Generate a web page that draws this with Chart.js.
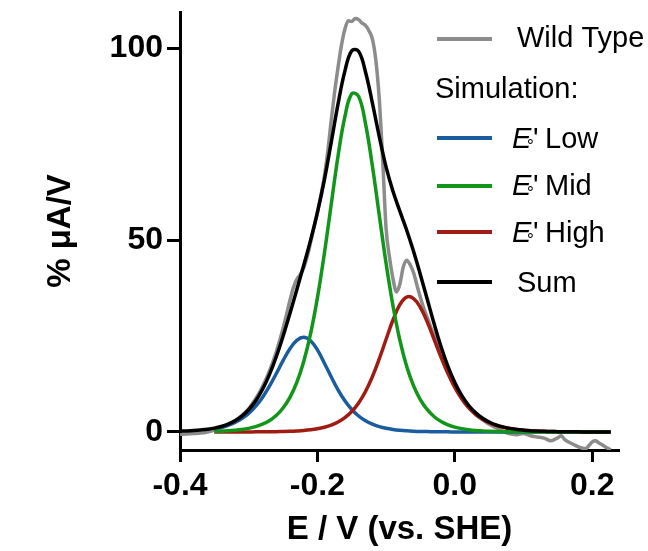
<!DOCTYPE html>
<html><head><meta charset="utf-8">
<script src="https://cdn.jsdelivr.net/npm/chart.js@4.4.1/dist/chart.umd.min.js"></script>
<style>html,body{margin:0;padding:0;background:#fff;}#wrap{width:648px;height:551px;}</style>
</head><body><div id="wrap"><canvas id="c" width="648" height="551"></canvas></div>
<script>
// ---- data ----
const xSim = [-0.40,-0.39,-0.38,-0.37,-0.36,-0.35,-0.34,-0.33,-0.32,-0.31,-0.30,-0.29,-0.28,-0.27,-0.26,-0.25,-0.24,-0.23,-0.22,-0.21,-0.20,-0.19,-0.18,-0.17,-0.16,-0.15,-0.14,-0.13,-0.12,-0.11,-0.10,-0.09,-0.08,-0.07,-0.06,-0.05,-0.04,-0.03,-0.02,-0.01,0.00,0.01,0.02,0.03,0.04,0.05,0.06,0.07,0.08,0.09,0.10,0.11,0.12,0.13,0.14,0.15,0.16,0.17,0.18,0.19,0.20,0.21,0.22,0.227];
const lowVals = [null,null,null,null,null,0.86,1.23,1.75,2.47,3.48,4.84,6.66,9.0,11.88,15.17,18.6,21.7,23.9,24.7,23.8,21.4,18.0,14.4,11.0,8.13,5.87,4.16,2.91,2.02,1.40,0.96,0.66,0.45,0.31,0.21,0.14,0.10,0.07,0.05,0.03,0.02,0.01,0.01,0,0,0,0,0,0,0,0,0,0,0,0,0,0,0,0,0,0,0,0,0];
const midVals = [null,null,null,null,null,0.14,0.20,0.30,0.44,0.64,0.94,1.38,2.02,2.94,4.30,6.24,9.01,12.92,18.33,25.58,34.97,46.36,59.2,71.9,82.2,88.2,87.5,80.4,69.4,56.6,43.9,32.9,23.96,17.1,12.03,8.38,5.80,3.98,2.73,1.87,1.28,0.87,0.59,0.40,0.28,0.19,0.13,0.09,0.06,0.04,0.03,0.02,0.01,0,0,0,0,0,0,0,0,0,0,0];
const highVals = [null,null,null,null,null,0.0,0.0,0.01,0.01,0.01,0.02,0.03,0.04,0.06,0.08,0.12,0.18,0.27,0.39,0.57,0.84,1.23,1.78,2.59,3.74,5.35,7.58,10.56,14.4,19.04,24.18,29.2,33.18,35.18,34.79,32.43,28.64,24.09,19.46,15.22,11.6,8.66,6.38,4.65,3.36,2.41,1.72,1.23,0.88,0.62,0.44,0.31,0.22,0.16,0.11,0.08,0.06,0.04,0.03,0.02,0.01,0.01,0.01,0.01];
const sumVals = [0.2,0.27,0.38,0.53,0.72,1.0,1.43,2.06,2.92,4.13,5.80,8.07,11.06,14.88,19.55,24.96,30.89,37.09,43.42,49.95,57.21,65.59,75.38,85.49,94.07,99.42,99.24,93.87,85.82,77.04,69.04,62.76,57.59,52.59,47.03,40.95,34.54,28.14,22.24,17.12,12.9,9.54,6.97,5.05,3.64,2.6,1.85,1.32,0.94,0.66,0.47,0.33,0.23,0.16,0.11,0.08,0.06,0.04,0.03,0.02,0.01,0.01,0.01,0.01];

const xWT = [-0.40,-0.39,-0.38,-0.37,-0.36,-0.35,-0.34,-0.33,-0.32,-0.31,-0.30,-0.29,-0.28,-0.27,-0.26,
 -0.255,-0.25,-0.245,-0.24,-0.235,-0.23,-0.225,-0.22,-0.215,-0.21,-0.205,-0.20,-0.195,-0.19,-0.185,-0.18,-0.175,-0.17,-0.165,-0.16,-0.155,-0.15,-0.145,-0.14,-0.135,-0.13,-0.125,-0.12,-0.115,-0.11,-0.105,-0.10,-0.095,-0.09,-0.085,-0.08,-0.075,-0.07,-0.065,-0.06,-0.055,-0.05,-0.045,-0.04,-0.035,-0.03,-0.025,-0.02,-0.015,-0.01,-0.005,0.0,0.005,0.01,0.015,0.02,
 0.03,0.04,0.05,0.06,0.07,0.08,0.09,0.10,0.11,0.12,0.13,0.14,0.15,0.155,0.16,0.17,0.18,0.19,0.195,0.20,0.205,0.21,0.215,0.22,0.227];
const wtVals = [-0.6,-0.5,-0.4,-0.3,0.0,0.5,1.0,1.8,2.9,4.3,6.1,8.6,11.8,15.8,20.8,
 23.8,27.0,30.6,34.3,37.6,39.8,41.0,42.8,45.6,49.4,53.4,57.3,61.6,66.5,73.0,81.0,88.5,95.0,100.8,105.0,107.2,107.0,107.8,107.5,106.6,106.0,104.6,102.5,97,87,71,53,45.5,40,36.5,38.5,43,44.8,43.6,41.5,38.2,35,32.2,29.8,27.3,25,22.6,20.3,17.8,15.6,13.6,11.8,10.2,8.8,7.5,6.4,
 4.6,3.2,2.0,1.1,0.2,-0.5,-0.7,-0.4,-1.0,-1.3,-1.6,-2.3,-1.5,-1.0,-2.0,-3.0,-3.9,-4.4,-3.6,-2.6,-2.3,-2.9,-3.4,-4.0,-4.7];

const xTicks = [-0.4,-0.2,0.0,0.2];
const yTicks = [0,50,100];
const xTitle = 'E / V (vs. SHE)';
const yTitle = '% μA/V';
const seriesNames = ['Wild Type','Low','Mid','High','Sum'];
const legendHeader = 'Simulation:';

// ---- chart ----
const FONT = '"Liberation Sans", Arial, Helvetica, sans-serif';
const COLORS = {wt:'#8c8c8c', low:'#1b5c9e', mid:'#12961a', high:'#a01c12', sum:'#000000'};
const pts = (xs, ys) => xs.map((x,i)=>({x:x, y:ys[i]}));

const legendPlugin = {
  id:'customLegend',
  afterDraw(chart){
    const ctx = chart.ctx;
    ctx.save();
    ctx.textBaseline = 'alphabetic';
    ctx.fillStyle = '#000';
    const lineX0 = 437, lineX1 = 492;
    const seg = (y, color) => {
      ctx.beginPath(); ctx.strokeStyle = color; ctx.lineWidth = 4; ctx.lineCap = 'butt';
      ctx.moveTo(lineX0, y); ctx.lineTo(lineX1, y); ctx.stroke();
    };
    const f = '29px ' + FONT;
    seg(39, COLORS.wt);
    ctx.font = f; ctx.fillText(seriesNames[0], 517, 47);
    ctx.fillText(legendHeader, 435, 98);
    const rows = [[seriesNames[1],138,148,COLORS.low],[seriesNames[2],186,195,COLORS.mid],[seriesNames[3],232,242,COLORS.high]];
    rows.forEach(([name, ly, by, col]) => {
      seg(ly, col);
      ctx.font = 'italic 29px ' + FONT; ctx.fillText('E', 512, by);
      ctx.font = '17px ' + FONT; ctx.fillText('°', 527, by + 3);
      ctx.font = f; ctx.fillText("'", 533, by);
      ctx.fillText(name, 545, by);
    });
    seg(282, COLORS.sum);
    ctx.font = f; ctx.fillText(seriesNames[4], 517, 292);
    ctx.restore();
  }
};

const lineDs = (label, xs, ys, color, extra) => Object.assign({
  label, data: pts(xs, ys), borderColor: color, backgroundColor: color,
  borderWidth: 3.5, pointRadius: 0, fill: false, tension: 0.4, spanGaps: false
}, extra || {});

new Chart(document.getElementById('c'), {
  type: 'line',
  data: { datasets: [
    lineDs(seriesNames[4], xSim, sumVals, COLORS.sum),
    lineDs(seriesNames[2], xSim, midVals, COLORS.mid),
    lineDs(seriesNames[3], xSim, highVals, COLORS.high),
    lineDs(seriesNames[1], xSim, lowVals, COLORS.low),
    lineDs(seriesNames[0], xWT, wtVals, COLORS.wt, {cubicInterpolationMode:'monotone'})
  ]},
  options: {
    responsive: false, animation: false, devicePixelRatio: 1,
    layout: { padding: { top: 12, right: 29, left: 0, bottom: 0 } },
    plugins: { legend: { display: false }, tooltip: { enabled: false } },
    scales: {
      x: {
        type: 'linear', min: -0.4, max: 0.239,
        afterBuildTicks: s => { s.ticks = xTicks.map(v => ({value: v})); },
        afterFit: s => { s.height = 101; s.paddingLeft = 0; s.paddingRight = 0; },
        grid: { drawOnChartArea: false, drawTicks: true, tickLength: 12, tickWidth: 3, tickColor: '#000' },
        border: { display: true, width: 3, color: '#000' },
        ticks: { color: '#000', font: { family: FONT, size: 32, weight: 'bold', lineHeight: 1.2 }, padding: 5, maxRotation: 0, autoSkip: false,
          callback: v => Number(v).toFixed(1) },
        title: { display: true, text: xTitle, color: '#000', font: { family: FONT, size: 33, weight: 'bold', lineHeight: 1.2 }, padding: { top: 0, bottom: 1 } }
      },
      y: {
        type: 'linear', min: -4.7, max: 109.5,
        afterBuildTicks: s => { s.ticks = yTicks.map(v => ({value: v})); },
        afterFit: s => { s.width = 180; s.paddingTop = 0; s.paddingBottom = 0; },
        grid: { drawOnChartArea: false, drawTicks: true, tickLength: 13, tickWidth: 3, tickColor: '#000' },
        border: { display: true, width: 3, color: '#000' },
        ticks: { color: '#000', font: { family: FONT, size: 32, weight: 'bold', lineHeight: 1.2 }, padding: 4,
          callback: v => String(v) },
        title: { display: true, text: yTitle, color: '#000', font: { family: FONT, size: 33, weight: 'bold', lineHeight: 1.2 }, padding: { top: 41, bottom: 0 } }
      }
    }
  },
  plugins: [legendPlugin]
});
</script>
</body></html>
